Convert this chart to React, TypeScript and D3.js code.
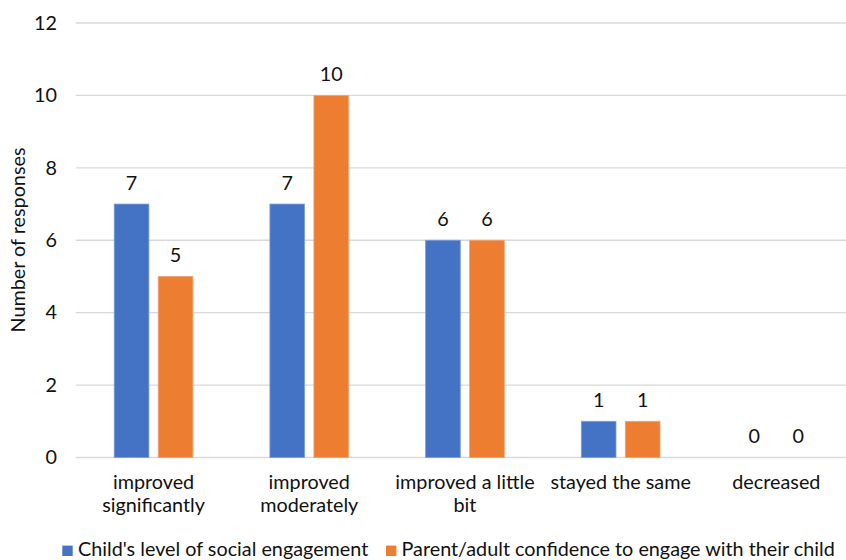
import React from "react";
import * as d3 from "d3";

const categories = [
  "improved significantly",
  "improved moderately",
  "improved a little bit",
  "stayed the same",
  "decreased",
];
const categoryLines = [
  ["improved", "significantly"],
  ["improved", "moderately"],
  ["improved a little", "bit"],
  ["stayed the same"],
  ["decreased"],
];
const seriesNames = [
  "Child's level of social engagement",
  "Parent/adult confidence to engage with their child",
];
const childValues = [7, 7, 6, 1, 0];
const parentValues = [5, 10, 6, 1, 0];
const yTicks = [0, 2, 4, 6, 8, 10, 12];

const W = 846;
const H = 560;
const BLUE = "#4472C4";
const ORANGE = "#ED7D31";
const FONT = "Lato, 'Noto Sans', sans-serif";
const FS = 19.8;
const TEXT = "#111";

export default function App() {
  const x = d3
    .scaleBand<string>()
    .domain(categories)
    .range([75.7, 854.2])
    .paddingInner(0)
    .paddingOuter(0);
  const y = d3.scaleLinear().domain([0, 12]).range([457.5, 23]);
  const barW = 34.7;
  const gap = 9.3;

  const series = [
    { name: seriesNames[0], values: childValues, color: BLUE, stroke: "#7f9fd8", off: -gap / 2 - barW },
    { name: seriesNames[1], values: parentValues, color: ORANGE, stroke: "#f3a473", off: gap / 2 },
  ];

  return (
    <svg
      width={W}
      height={H}
      style={{ position: "absolute", left: 0, top: 0, background: "#fff" }}
      fontFamily={FONT}
    >
      {/* gridlines */}
      {yTicks.map((t) => (
        <line
          key={"g" + t}
          x1={75.7}
          x2={W}
          y1={y(t)}
          y2={y(t)}
          stroke="#d9d9d9"
          strokeWidth={1.3}
        />
      ))}
      {/* y tick labels */}
      {yTicks.map((t) => (
        <text
          key={"t" + t}
          x={57}
          y={y(t) + 6.8}
          textAnchor="end"
          fontSize={FS}
          fill={TEXT}
        >
          {t}
        </text>
      ))}
      {/* y axis title */}
      <text
        transform={`translate(24.5,240) rotate(-90)`}
        textAnchor="middle"
        fontSize={FS}
        fill={TEXT}
      >
        Number of responses
      </text>
      {/* bars and value labels */}
      {series.map((s) =>
        categories.map((c, i) => {
          const cx = (x(c) as number) + x.bandwidth() / 2;
          const bx = cx + s.off;
          const v = s.values[i];
          return (
            <g key={s.name + c}>
              {v > 0 && (
                <rect
                  x={bx}
                  y={y(v)}
                  width={barW}
                  height={y(0) - y(v)}
                  fill={s.color}
                  stroke={s.stroke}
                  strokeWidth={0.8}
                />
              )}
              <text
                x={bx + barW / 2}
                y={y(v) - 14.5}
                textAnchor="middle"
                fontSize={FS}
                fill={TEXT}
              >
                {v}
              </text>
            </g>
          );
        })
      )}
      {/* category labels */}
      {categories.map((c, i) => {
        const cx = (x(c) as number) + x.bandwidth() / 2;
        return (
          <text key={"c" + c} textAnchor="middle" fontSize={FS} fill={TEXT}>
            {categoryLines[i].map((ln, j) => (
              <tspan key={j} x={cx} y={489 + j * 22.6}>
                {ln}
              </tspan>
            ))}
          </text>
        );
      })}
      {/* legend */}
      <rect x={62.3} y={545.6} width={10.4} height={10.4} fill={BLUE} />
      <text x={78} y={555.7} fontSize={FS} fill={TEXT}>
        {seriesNames[0]}
      </text>
      <rect x={386} y={545.6} width={10.4} height={10.4} fill={ORANGE} />
      <text x={401.5} y={555.7} fontSize={FS} fill={TEXT}>
        {seriesNames[1]}
      </text>
    </svg>
  );
}
